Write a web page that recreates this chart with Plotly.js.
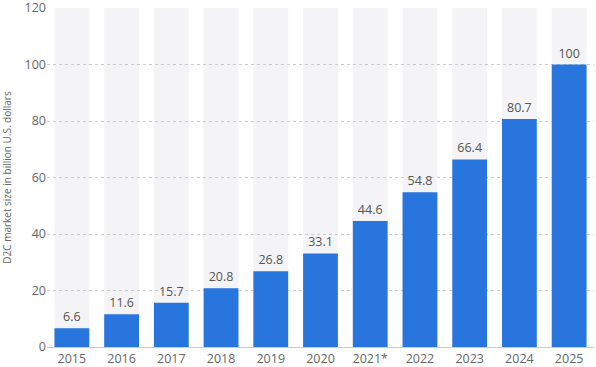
<!DOCTYPE html>
<html><head><meta charset="utf-8">
<script src="https://cdn.plot.ly/plotly-3.0.1.min.js"></script>
<style>html,body{margin:0;padding:0;background:#fff}#chart{width:596px;height:367px}</style>
</head><body><div id="chart"></div>
<script>
const categories = ["2015","2016","2017","2018","2019","2020","2021*","2022","2023","2024","2025"];
const values = [6.6, 11.6, 15.7, 20.8, 26.8, 33.1, 44.6, 54.8, 66.4, 80.7, 100];
const yTicks = [0, 20, 40, 60, 80, 100, 120];
const yMax = 120;
const yTitle = "D2C market size in billion U.S. dollars";
const bargap = 0.3;

const bars = {
  type: "bar", x: categories, y: values,
  marker: {color: "#2876dd"},
  text: values.map(v => String(v)), textposition: "outside",
  textfont: {family: "Open Sans, sans-serif", size: 12.5, color: "#555"},
  cliponaxis: false, showlegend: false
};
// background bands behind each category (below the gridlines)
const bands = categories.map((c, i) => ({
  type: "rect", layer: "below", xref: "x", yref: "y",
  x0: i - (1 - bargap) / 2, x1: i + (1 - bargap) / 2, y0: 0, y1: yMax,
  fillcolor: "#f4f4f6", line: {width: 0}
}));
const layout = {
  width: 596, height: 367,
  margin: {l: 46.5, r: 1.5, t: 8, b: 20},
  bargap: bargap,
  paper_bgcolor: "#fff", plot_bgcolor: "#fff",
  font: {family: "Open Sans, sans-serif", size: 12, color: "#666"},
  shapes: bands,
  xaxis: {type: "category", showgrid: false, ticks: "", showline: true, linecolor: "#ccc", linewidth: 1,
          tickfont: {size: 12.5, color: "#666"}},
  yaxis: {range: [0, yMax], tickvals: yTicks, showgrid: true, gridcolor: "#cccccc", griddash: "dot",
          gridwidth: 1, zeroline: false, ticks: "", tickfont: {size: 12.5, color: "#666"},
          ticklabeloverflow: "allow",
          title: {text: yTitle, font: {size: 10, color: "#666"}, standoff: 14}}
};
Plotly.newPlot("chart", [bars], layout, {displayModeBar: false, staticPlot: true});
</script></body></html>
